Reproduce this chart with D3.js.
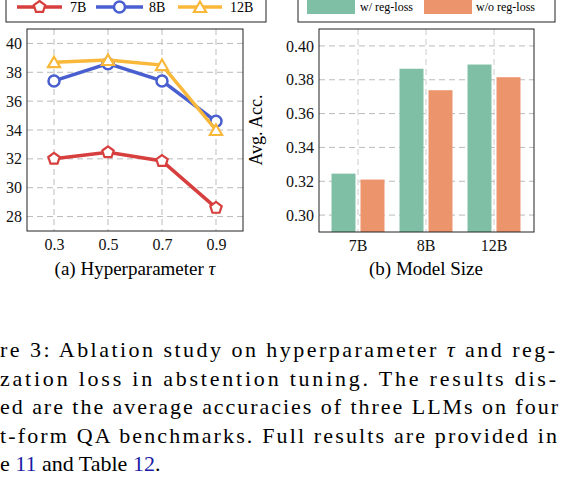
<!DOCTYPE html>
<html><head><meta charset="utf-8">
<script src="https://cdn.jsdelivr.net/npm/d3@7"></script>
<style>body{margin:0;background:#fff}text{font-family:"Liberation Serif","DejaVu Serif",serif}</style>
</head><body><svg class="canvas" width="562" height="498"></svg>
<script>
var taus = [0.3, 0.5, 0.7, 0.9];
var tauTicks = [28, 30, 32, 34, 36, 38, 40];
var acc7B = [32.0, 32.45, 31.85, 28.6];
var acc8B = [37.4, 38.6, 37.4, 34.6];
var acc12B = [38.7, 38.85, 38.5, 34.0];
var sizes = ['7B', '8B', '12B'];
var withReg = [0.3245, 0.3865, 0.389];
var withoutReg = [0.321, 0.3738, 0.3815];
var accTicks = [0.30, 0.32, 0.34, 0.36, 0.38, 0.40];

var svg = d3.select('.canvas');

// LEFT PANEL
var x1 = d3.scaleLinear().domain([0.2, 1.0]).range([27, 243]);
var y1 = d3.scaleLinear().domain([27, 41]).range([231, 29]);
var g1 = svg.append('g');
g1.selectAll('.vg').data(taus).enter().append('line')
	.attr('x1', d => x1(d)).attr('x2', d => x1(d)).attr('y1', 29).attr('y2', 231)
	.attr('stroke', '#bbb').attr('stroke-dasharray', '6,4');
g1.selectAll('.hg').data(tauTicks).enter().append('line')
	.attr('x1', 27).attr('x2', 243).attr('y1', d => y1(d)).attr('y2', d => y1(d))
	.attr('stroke', '#bbb').attr('stroke-dasharray', '6,4');
g1.append('g').attr('transform', 'translate(27,0)')
	.call(d3.axisLeft(y1).tickValues(tauTicks).tickSize(0).tickPadding(5))
	.call(a => a.select('.domain').remove())
	.selectAll('text').attr('font-size', 16).attr('fill', '#111');
g1.append('g').attr('transform', 'translate(0,231)')
	.call(d3.axisBottom(x1).tickValues(taus).tickSize(0).tickPadding(8).tickFormat(d3.format('.1f')))
	.call(a => a.select('.domain').remove())
	.selectAll('text').attr('font-size', 16).attr('fill', '#111');

var series = [
	{name: '7B', vals: acc7B, color: '#d63f3d', sym: 'pent'},
	{name: '8B', vals: acc8B, color: '#4a5fcf', sym: 'circ'},
	{name: '12B', vals: acc12B, color: '#f9b83a', sym: 'tri'}
];
function marker(g, s, cx, cy) {
	if (s.sym == 'circ') {
		g.append('circle').attr('cx', cx).attr('cy', cy).attr('r', 5.5)
			.attr('fill', '#fff').attr('stroke', s.color).attr('stroke-width', 2.5);
	} else {
		var n = s.sym == 'pent' ? 5 : 3, r = s.sym == 'pent' ? 6 : 7;
		var pts = d3.range(n).map(i => {
			var a = -Math.PI / 2 + i * 2 * Math.PI / n;
			return [cx + r * Math.cos(a), cy + r * Math.sin(a) + (n == 3 ? 1.5 : 0)];
		});
		g.append('polygon').attr('points', pts.join(' '))
			.attr('fill', '#fff').attr('stroke', s.color).attr('stroke-width', 2.2);
	}
}
var line = d3.line().x((d, i) => x1(taus[i])).y(d => y1(d));
series.forEach(function(s) {
	g1.append('path').attr('d', line(s.vals)).attr('fill', 'none')
		.attr('stroke', s.color).attr('stroke-width', 3.5);
	s.vals.forEach((v, i) => marker(g1, s, x1(taus[i]), y1(v)));
});
g1.append('rect').attr('x', 27).attr('y', 29).attr('width', 216).attr('height', 202)
	.attr('fill', 'none').attr('stroke', '#222').attr('stroke-width', 1);

// left legend
svg.append('rect').attr('x', 6).attr('y', -5).attr('width', 260).attr('height', 27)
	.attr('fill', '#fff').attr('stroke', '#222');
var legX = [[17, 62, 70], [96, 143, 149], [178, 222, 230]];
series.forEach(function(s, i) {
	var l = legX[i];
	svg.append('line').attr('x1', l[0]).attr('x2', l[1]).attr('y1', 7).attr('y2', 7)
		.attr('stroke', s.color).attr('stroke-width', 3.5);
	marker(svg, s, (l[0] + l[1]) / 2, 7);
	svg.append('text').attr('x', l[2]).attr('y', 12).attr('font-size', 14).text(s.name);
});
svg.append('text').attr('x', 135).attr('y', 275).attr('text-anchor', 'middle')
	.attr('font-size', 19).html('(a) Hyperparameter <tspan font-style="italic">τ</tspan>');

// RIGHT PANEL
var x2 = d3.scaleBand().domain(sizes).range([324, 528]).paddingInner(0).paddingOuter(0);
var y2 = d3.scaleLinear().domain([0.29, 0.41]).range([232, 29]);
var g2 = svg.append('g');
g2.selectAll('.hg').data(accTicks).enter().append('line')
	.attr('x1', 319).attr('x2', 534).attr('y1', d => y2(d)).attr('y2', d => y2(d))
	.attr('stroke', '#bbb').attr('stroke-dasharray', '6,4');
g2.selectAll('.vg').data(sizes).enter().append('line')
	.attr('x1', d => x2(d) + x2.bandwidth() / 2).attr('x2', d => x2(d) + x2.bandwidth() / 2)
	.attr('y1', 29).attr('y2', 232).attr('stroke', '#ccc').attr('stroke-dasharray', '6,4');
var bw = 24;
g2.selectAll('.bw').data(withReg).enter().append('rect')
	.attr('x', (d, i) => x2(sizes[i]) + x2.bandwidth() / 2 - bw - 2.5)
	.attr('y', d => y2(d)).attr('width', bw).attr('height', d => 232 - y2(d))
	.attr('fill', '#7fbfa6');
g2.selectAll('.bo').data(withoutReg).enter().append('rect')
	.attr('x', (d, i) => x2(sizes[i]) + x2.bandwidth() / 2 + 2.5)
	.attr('y', d => y2(d)).attr('width', bw).attr('height', d => 232 - y2(d))
	.attr('fill', '#ec946c');
g2.append('g').attr('transform', 'translate(319,0)')
	.call(d3.axisLeft(y2).tickValues(accTicks).tickSize(0).tickPadding(5).tickFormat(d3.format('.2f')))
	.call(a => a.select('.domain').remove())
	.selectAll('text').attr('font-size', 16).attr('fill', '#111');
g2.append('g').attr('transform', 'translate(0,232)')
	.call(d3.axisBottom(x2).tickSize(0).tickPadding(8))
	.call(a => a.select('.domain').remove())
	.selectAll('text').attr('font-size', 16).attr('fill', '#111');
g2.append('rect').attr('x', 319).attr('y', 29).attr('width', 215).attr('height', 203)
	.attr('fill', 'none').attr('stroke', '#222');
svg.append('text').attr('transform', 'translate(262,130) rotate(-90)')
	.attr('text-anchor', 'middle').attr('font-size', 18).text('Avg. Acc.');
svg.append('text').attr('x', 426).attr('y', 275).attr('text-anchor', 'middle')
	.attr('font-size', 19).text('(b) Model Size');

// right legend
svg.append('rect').attr('x', 298).attr('y', -5).attr('width', 257).attr('height', 27)
	.attr('fill', '#fff').attr('stroke', '#222');
svg.append('rect').attr('x', 307).attr('y', 0).attr('width', 48).attr('height', 14).attr('fill', '#7fbfa6');
svg.append('text').attr('x', 360).attr('y', 11).attr('font-size', 12).text('w/ reg-loss');
svg.append('rect').attr('x', 424).attr('y', 0).attr('width', 48).attr('height', 14).attr('fill', '#ec946c');
svg.append('text').attr('x', 476).attr('y', 11).attr('font-size', 12).text('w/o reg-loss');

// CAPTION (cropped on left in reference)
var cap = [
	['re 3: Ablation study on hyperparameter <tspan font-style="italic">τ</tspan> and reg-', 357, 555],
	['zation loss in abstention tuning.  The results dis-', 386, 556],
	['ed are the average accuracies of three LLMs on four', 414, 558],
	['t-form QA benchmarks. Full results are provided in', 443, 557],
	['e <tspan fill="#1a1aa6">11</tspan> and Table <tspan fill="#1a1aa6">12</tspan>.', 471, 0]
];
cap.forEach(function(c) {
	var t = svg.append('text').attr('x', 0).attr('y', c[1]).attr('font-size', 22).html(c[0]);
	if (c[2]) t.attr('textLength', c[2]).attr('lengthAdjust', 'spacing');
});
</script></body></html>
